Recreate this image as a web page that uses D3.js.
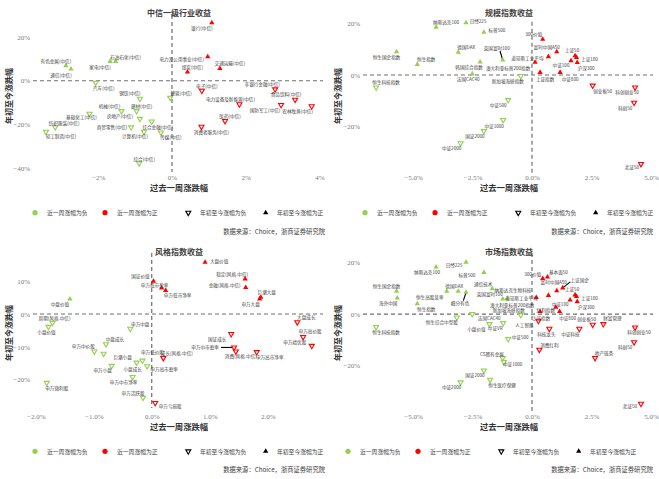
<!DOCTYPE html>
<html><head><meta charset="utf-8">
<script src="https://cdn.jsdelivr.net/npm/d3@7"></script>
<style>body{margin:0;background:#fff}svg{display:block}</style></head>
<body><svg id="c" width="659" height="479"></svg>
<script>
// ---------------- DATA ----------------
// Panel 1: 中信一级行业收益  (week change %, YTD change %)
const p1Names = ["有色金属(中信)","通信(中信)","家电(中信)","石油石化(中信)","汽车(中信)","钢铁(中信)","机械(中信)","建材(中信)","房地产(中信)","基础化工(中信)","纺织服装(中信)","轻工制造(中信)","商贸零售(中信)","综合金融(中信)","计算机(中信)","传媒(中信)","综合(中信)","建筑(中信)","银行(中信)","电力及公用事业(中信)","交通运输(中信)","煤炭(中信)","电子(中信)","非银行金融(中信)","食品饮料(中信)","电力设备及新能源(中信)","国防军工(中信)","农林牧渔(中信)","医药(中信)","消费者服务(中信)"];
const p1Week  = [-2.88,-2.74,-1.68,-1.53,-2.07,-0.87,-1.37,-0.96,-0.87,-2.24,-3.17,-3.42,-1.11,-0.55,-0.76,-0.30,-0.89,-0.05,1.08,0.97,1.30,0.42,0.81,2.80,3.34,1.83,2.96,3.79,1.44,0.80];
const p1Ytd   = [6.8,5.3,8.8,8.8,-0.9,-8.2,-13.8,-13.8,-17.3,-15.0,-21.1,-23.2,-21.2,-18.5,-23.2,-23.5,-37.5,-7.7,26.4,10.9,5.6,4.0,-4.5,-3.9,-8.6,-10.7,-11.0,-11.6,-18.3,-20.9];

// Panel 2: 规模指数收益
const p2Names = ["恒生国企指数","恒生指数","恒生科技指数","纳斯达克100","日经225","标普500","德国DAX","韩国综合指数","法国CAC40","英国富时100","澳大利亚标普200指数","新加坡海峡指数","中证500","中证1000","国证2000","中证2000","300价值","富时中国A50","道琼斯工业平均","上证50","上证180","中证100","沪深300","上证指数","中证800","创业板50","科创创业50","科创50","北证50"];
const p2Week  = [-5.69,-4.82,-6.55,-4.03,-2.77,-2.02,-3.10,-2.18,-2.51,-1.23,0.13,-0.47,-1.00,-1.21,-2.02,-3.00,0.45,1.04,0.69,1.81,1.87,1.64,1.90,0.34,1.18,2.55,4.33,4.29,4.58];
const p2Ytd   = [9.0,4.1,-4.8,18.5,20.2,16.5,8.8,5.0,0.4,5.8,4.9,-0.4,-9.7,-17.4,-21.7,-26.4,13.8,9.0,7.1,7.4,6.8,5.5,4.8,1.0,1.0,-4.1,-4.8,-10.7,-34.4];

// Panel 3: 风格指数收益
const p3Names = ["国证价值","申万低市盈率","申万低市净率","中盘价值","周期(风格.中信)","小盘价值","申万中盘","中盘成长","申万中价股","巨潮小盘","申万小盘","小盘成长","申万低价股","申万高市盈率","申万中市净率","申万活跃股","申万微利股","申万亏损股","大盘价值","稳定(风格.中信)","金融(风格.中信)","巨潮大盘","申万大盘","大盘成长","申万高价股","申万绩优股","国证成长","申万中市盈率","消费(风格.中信)","申万高市净率","成长(风格.中信)"];
const p3Week  = [0.03,0.17,0.24,-1.41,-1.71,-1.78,-0.37,-0.79,-0.99,-0.83,-0.69,-0.26,-0.16,-0.08,-0.33,-0.15,-1.81,0.06,0.92,1.61,1.62,1.88,1.86,2.51,2.61,2.76,1.37,1.42,1.45,1.81,0.20];
const p3Ytd   = [10.0,7.9,7.2,4.6,-2.7,-3.9,-4.5,-9.2,-11.4,-12.1,-15.8,-14.8,-14.2,-15.9,-19.2,-25.5,-21.0,-27.1,15.8,10.7,8.1,5.1,4.6,-2.5,-7.0,-9.7,-6.1,-10.2,-11.4,-11.6,-13.4];

// Panel 4: 市场指数收益
const p4Names = ["纳斯达克100","日经225","标普500","恒生国企指数","海外中国","恒生高股息率","德国DAX","细分有色","通信技术","英国富时100","纳斯达克生物科技","恒生指数","恒生科技指数","恒生综合中型股","法国CAC40","小盘价值","新加坡海峡指数","中证VR","中证500","中证1000","国证2000","中证2000","恒生医疗保健","CS稀有金属","300价值","基本面50","富时中国A50","上证国企","澳大利亚标普200指数","道琼斯工业平均","上证50","上证180","中证100","沪深300","红利指数","上证指数","中证800","人工智能","科技龙头","中证科技","创业板50","财富管理","科创创业50","科创50","消费红利","地产链条","北证50"];
const p4Week  = [-4.03,-2.77,-2.02,-5.69,-5.66,-3.58,-3.10,-2.77,-1.67,-1.23,-1.05,-4.82,-6.55,-3.16,-2.51,-1.79,-0.47,-1.21,-1.00,-1.23,-2.02,-3.00,-1.76,-1.18,0.45,0.65,1.04,1.29,0.18,0.69,1.81,1.87,1.60,1.90,1.00,0.34,1.16,0.27,0.73,1.99,2.55,3.00,4.33,4.29,0.31,2.65,4.58];
const p4Ytd   = [18.2,20.0,16.1,8.8,6.2,8.8,8.8,8.4,9.8,5.8,6.0,4.0,-5.0,-1.3,0.0,-3.9,-0.4,-3.5,-9.7,-17.0,-21.8,-26.4,-25.4,-18.6,13.7,14.3,9.0,10.1,6.4,7.2,7.4,6.8,5.4,4.8,2.6,1.0,1.0,-2.6,-5.7,-5.7,-4.1,-3.9,-5.2,-10.9,-13.8,-17.0,-34.7];

// tick values
const p1XTicks = [-2,0,2,4],      p1YTicks = [20,0,-20,-40];
const p2XTicks = [-5,-2.5,0,2.5,5], p2YTicks = [20,0,-20];
const p3XTicks = [-2,-1,0,1,2],   p3YTicks = [10,0,-10,-20];
const p4XTicks = [-5,-2.5,0,2.5,5], p4YTicks = [20,0,-20];

// ---------------- LABEL PLACEMENT (px offsets of label centre from marker; 3rd item = leader line) ----------------
const p1Place = {"有色金属(中信)":[-10,-4.7],"通信(中信)":[-10,6],"家电(中信)":[-10,6],"石油石化(中信)":[10,-4.5],"汽车(中信)":[8,5.5],"钢铁(中信)":[-10,-5.5],"机械(中信)":[-12,-5],"建材(中信)":[5,-5],"房地产(中信)":[-20,-2.5],"基础化工(中信)":[-8,3.3],"纺织服装(中信)":[9,-4],"轻工制造(中信)":[15,4.5],"商贸零售(中信)":[-19,0],"综合金融(中信)":[6,5.5],"计算机(中信)":[-9,4.5],"传媒(中信)":[10,5],"综合(中信)":[5,-4.5],"建筑(中信)":[11,-5],"银行(中信)":[-10,5.5],"电力及公用事业(中信)":[-26,2.5],"交通运输(中信)":[10,-5],"煤炭(中信)":[5,-4.5],"电子(中信)":[5,-5],"非银行金融(中信)":[-13,-5],"食品饮料(中信)":[-9,-5.5],"电力设备及新能源(中信)":[-9,-5],"国防军工(中信)":[-16,5],"农林牧渔(中信)":[-14,5],"医药(中信)":[5,-5],"消费者服务(中信)":[10,5]};
const p2Place = {"恒生国企指数":[-10,5],"恒生指数":[9,-5],"恒生科技指数":[10,-5],"纳斯达克100":[10,-5],"日经225":[12,-2],"标普500":[13,-2],"德国DAX":[8,-5],"韩国综合指数":[-11,5],"法国CAC40":[-4,5],"英国富时100":[-6,-12,1],"澳大利亚标普200指数":[-27,5.5],"新加坡海峡指数":[-13,5],"中证500":[-10,5],"中证1000":[-9,6],"国证2000":[-9,5],"中证2000":[-9,4.5],"300价值":[-9,-5],"富时中国A50":[-10,-5],"道琼斯工业平均":[-21,1],"上证50":[-3,-6],"上证180":[13,2],"中证100":[-10,4],"沪深300":[9,5],"上证指数":[5,7],"中证800":[10,7],"创业板50":[10,5],"科创创业50":[-8,5],"科创50":[-9,5],"北证50":[-9,3]};
const p3Place = {"国证价值":[-13,-5],"申万低市盈率":[-7,-3.5],"申万低市净率":[12,5],"中盘价值":[-10,5],"周期(风格.中信)":[2,-5],"小盘价值":[-2,5.5],"申万中盘":[10,-5],"中盘成长":[9,-5.5],"申万中价股":[-11,-5],"巨潮小盘":[19,3],"申万小盘":[-9,4],"小盘成长":[-4,6],"申万低价股":[10,-9],"申万高市盈率":[17,3],"申万中市净率":[-9,5],"申万活跃股":[-10,-5],"申万微利股":[10,5],"申万亏损股":[15,3],"大盘价值":[14,-1.5],"稳定(风格.中信)":[-13,-5],"金融(风格.中信)":[-21,-2.5],"巨潮大盘":[6,-5],"申万大盘":[-9,5.5],"大盘成长":[9,-5],"申万高价股":[7,-5.5],"申万绩优股":[-17,-4],"国证成长":[-14,5],"申万中市盈率":[-29,0,1],"消费(风格.中信)":[5,5],"申万高市净率":[13,5],"成长(风格.中信)":[13.5,-4.7]};
const p4Place = {"纳斯达克100":[-9,5],"日经225":[-12,3],"标普500":[-17,2.5],"恒生国企指数":[-10,-5],"海外中国":[-9,5.5],"恒生高股息率":[-17,5.5],"德国DAX":[-4,-5],"细分有色":[-6,11,1],"通信技术":[-9,-5],"英国富时100":[-13,-5],"纳斯达克生物科技":[6,-9],"恒生指数":[9,5],"恒生科技指数":[10,5],"恒生综合中型股":[-15,5],"法国CAC40":[17,4],"小盘价值":[-13,5],"新加坡海峡指数":[-12,-5],"中证VR":[-8,5],"中证500":[12,-1.7],"中证1000":[10,6],"国证2000":[-9,5],"中证2000":[-9,5],"恒生医疗保健":[12,5],"CS稀有金属":[-12,-8],"300价值":[-10,-5],"基本面50":[11,-5],"富时中国A50":[-3,-9],"上证国企":[17,-8,1],"澳大利亚标普200指数":[-24,8],"道琼斯工业平均":[-27,3],"上证50":[-3,-6],"上证180":[13,2],"中证100":[-10,4],"沪深300":[9,5],"红利指数":[-10,3],"上证指数":[1,7],"中证800":[8,7],"人工智能":[-14,4.6],"科技龙头":[-3,5],"中证科技":[-9,5],"创业板50":[-6,-6],"财富管理":[9,-6],"科创创业50":[4,5],"科创50":[-9,5],"消费红利":[10,-5],"地产链条":[9,-5],"北证50":[-11,2]};

// ---------------- DRAW ----------------
const svg = d3.select("#c");
const GREEN = "#92D050", RED = "#FF0000";
const CJK = '"Noto Sans CJK SC","Noto Sans",sans-serif';
const SERIF = '"Liberation Serif","DejaVu Serif",serif';
const pct0 = d => d3.format("d")(d) + "%";
const pct1 = d => d3.format(".1f")(d) + "%";

const panels = [
  {title:"中信一级行业收益", names:p1Names, xs:p1Week, ys:p1Ytd, place:p1Place, xt:p1XTicks, yt:p1YTicks, fx:pct0, fy:pct0,
   l:33, r:323, t:15, b:172, xd:[-3.772,4.098], yd:[-41.5,29.9], xpad:3, titleY:12, xlabY:187, ylabX:8, ylabY:96},
  {title:"规模指数收益", names:p2Names, xs:p2Week, ys:p2Ytd, place:p2Place, xt:p2XTicks, yt:p2YTicks, fx:pct1, fy:pct0,
   l:363, r:653, t:21.7, b:173, xd:[-7.10,5.084], yd:[-37.9,20.6], xpad:2, titleY:12, xlabY:187, ylabX:337, ylabY:96},
  {title:"风格指数收益", names:p3Names, xs:p3Week, ys:p3Ytd, place:p3Place, xt:p3XTicks, yt:p3YTicks, fx:pct1, fy:pct0,
   l:33, r:323, t:253, b:408, xd:[-2.047,2.953], yd:[-28.66,18.6], xpad:6, titleY:251.5, xlabY:426, ylabX:8, ylabY:333},
  {title:"市场指数收益", names:p4Names, xs:p4Week, ys:p4Ytd, place:p4Place, xt:p4XTicks, yt:p4YTicks, fx:pct1, fy:pct0,
   l:363, r:653, t:253, b:411, xd:[-7.10,5.084], yd:[-37.5,23.6], xpad:3, titleY:251.5, xlabY:426, ylabX:337, ylabY:333}
];

const triUp = d3.symbol().type(d3.symbolTriangle).size(12)();
const triDown = d3.symbol().type(d3.symbolTriangle).size(11)();

panels.forEach(p => {
  const g = svg.append("g");
  const x = d3.scaleLinear().domain(p.xd).range([p.l, p.r]);
  const y = d3.scaleLinear().domain(p.yd).range([p.b, p.t]);
  const cx = (p.l + p.r) / 2 + 1;

  // dashed zero lines
  g.append("line").attr("x1", p.l).attr("x2", p.r).attr("y1", y(0)).attr("y2", y(0))
    .attr("stroke", "#6f6f6f").attr("stroke-width", 1.2).attr("stroke-dasharray", "4,3");
  g.append("line").attr("x1", x(0)).attr("x2", x(0)).attr("y1", p.t).attr("y2", p.b)
    .attr("stroke", "#6f6f6f").attr("stroke-width", 1.2).attr("stroke-dasharray", "4,3");

  // axes (labels only)
  const ax = g.append("g").attr("transform", `translate(0,${p.b})`)
    .call(d3.axisBottom(x).tickValues(p.xt).tickSize(0).tickPadding(p.xpad).tickFormat(p.fx));
  const ay = g.append("g").attr("transform", `translate(${p.l},0)`)
    .call(d3.axisLeft(y).tickValues(p.yt).tickSize(0).tickPadding(3).tickFormat(p.fy));
  [ax, ay].forEach(a => {
    a.select(".domain").remove();
    a.selectAll("text").attr("font-family", SERIF).attr("font-size", 7).attr("fill", "#7a7a7a");
  });

  // titles
  g.append("text").attr("x", cx).attr("y", p.titleY).attr("text-anchor", "middle").attr("dominant-baseline", "central")
    .attr("font-family", CJK).attr("font-size", 8).attr("font-weight", "bold").attr("fill", "#404040").text(p.title);
  g.append("text").attr("x", cx).attr("y", p.xlabY).attr("text-anchor", "middle").attr("dominant-baseline", "central")
    .attr("font-family", CJK).attr("font-size", 8.3).attr("font-weight", "bold").attr("fill", "#333").text("过去一周涨跌幅");
  g.append("text").attr("transform", `translate(${p.ylabX},${p.ylabY}) rotate(-90)`).attr("text-anchor", "middle")
    .attr("dominant-baseline", "central").attr("font-family", CJK).attr("font-size", 8).attr("font-weight", "bold")
    .attr("fill", "#333").text("年初至今涨跌幅");

  const data = p.names.map((n, i) => ({n, wx: p.xs[i], yy: p.ys[i], pl: p.place[n] || [0, -5]}));

  // leader lines
  g.selectAll("line.lead").data(data.filter(d => d.pl[2])).enter().append("line")
    .attr("x1", d => x(d.wx) + d.pl[0] * 0.45).attr("y1", d => y(d.yy) + d.pl[1] * 0.75)
    .attr("x2", d => x(d.wx)).attr("y2", d => y(d.yy))
    .attr("stroke", "#000").attr("stroke-width", 1.1);

  // markers
  g.selectAll("path.m").data(data).enter().append("path")
    .attr("d", d => d.yy > 0 ? triUp : triDown)
    .attr("transform", d => `translate(${x(d.wx)},${y(d.yy)})` + (d.yy > 0 ? "" : " rotate(180)"))
    .attr("fill", d => d.yy > 0 ? (d.wx < 0 ? GREEN : RED) : "#fff")
    .attr("stroke", d => d.wx < 0 ? GREEN : RED)
    .attr("stroke-width", d => d.yy > 0 ? 0 : 1.1);

  // labels
  g.selectAll("text.lab").data(data).enter().append("text")
    .attr("x", d => x(d.wx) + d.pl[0]).attr("y", d => y(d.yy) + d.pl[1])
    .attr("text-anchor", "middle").attr("dominant-baseline", "central")
    .attr("font-family", CJK).attr("font-size", 4.6).attr("fill", "#404040").text(d => d.n);
});

// ---------------- LEGENDS & SOURCE ----------------
const legendItems = ["近一周涨幅为负","近一周涨幅为正","年初至今涨幅为负","年初至今涨幅为正"];
const legends = [
  {ox:0, y:212.7}, {ox:330, y:212.7}, {ox:0, y:451.3}, {ox:313, y:451.3}
];
legends.forEach(L => {
  const g = svg.append("g").attr("transform", `translate(${L.ox},${L.y})`);
  const mx = [35, 105, 188.3, 265.7], tx = [47, 117, 200, 277];
  g.append("circle").attr("cx", mx[0]).attr("cy", 0).attr("r", 2.6).attr("fill", GREEN);
  g.append("circle").attr("cx", mx[1]).attr("cy", 0).attr("r", 2.6).attr("fill", RED);
  g.append("path").attr("d", triDown).attr("transform", `translate(${mx[2]},0) rotate(180)`)
    .attr("fill", "#fff").attr("stroke", "#000").attr("stroke-width", 1.1);
  g.append("path").attr("d", triUp).attr("transform", `translate(${mx[3]},0)`).attr("fill", "#000");
  legendItems.forEach((t, i) => g.append("text").attr("x", tx[i]).attr("y", 0).attr("dominant-baseline", "central")
    .attr("font-family", CJK).attr("font-size", 5.8).attr("fill", "#404040").text(t));
});
const sources = [{x:325, y:231.7}, {x:653, y:231.7}, {x:325, y:469}, {x:653, y:469}];
sources.forEach(s => svg.append("text").attr("x", s.x).attr("y", s.y).attr("text-anchor", "end")
  .attr("dominant-baseline", "central").attr("font-family", CJK).attr("font-size", 6.3).attr("fill", "#404040")
  .text("数据来源：Choice，浙商证券研究院"));
</script></body></html>
